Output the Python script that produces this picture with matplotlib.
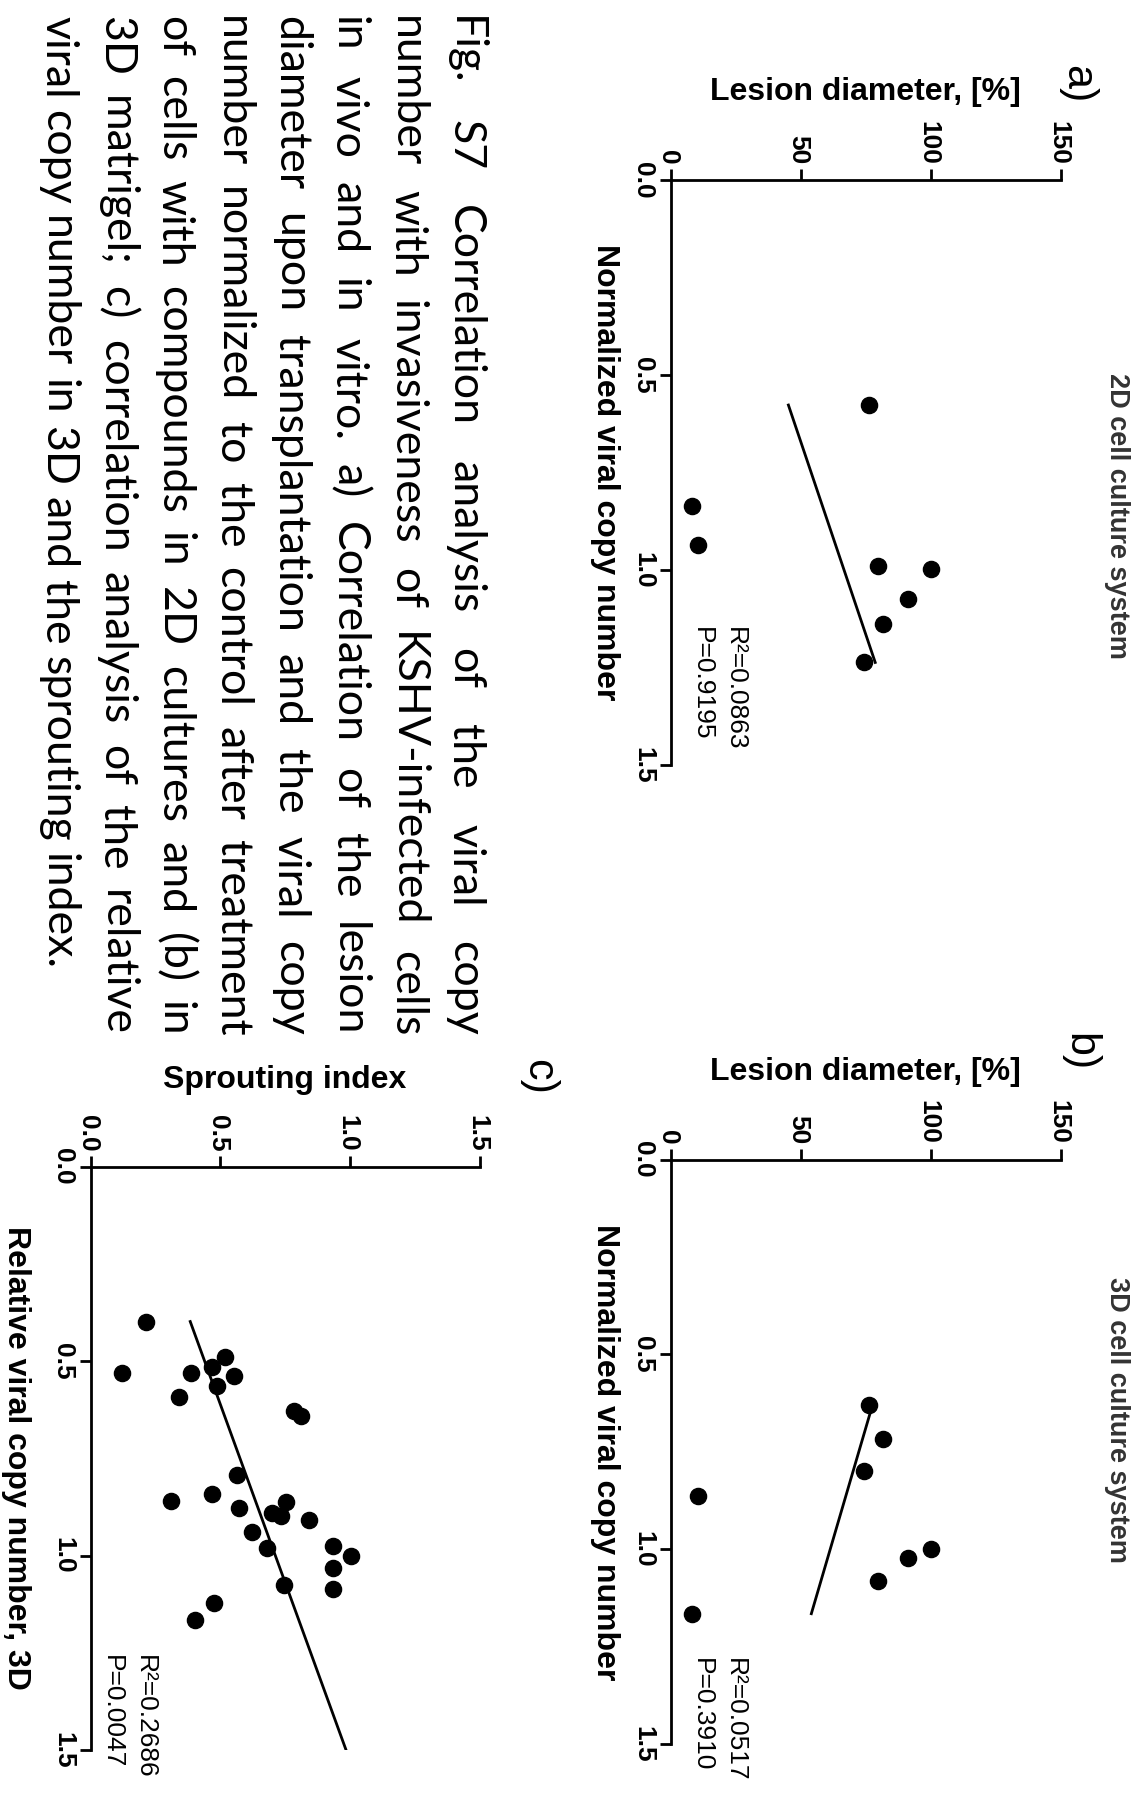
import matplotlib
matplotlib.use("Agg")
import matplotlib.pyplot as plt
import numpy as np

# a) 2D cell culture system
copy_2d = [0.577, 0.836, 0.936, 0.991, 0.998, 1.074, 1.138, 1.237]
lesion_2d = [76.3, 8.1, 10.6, 79.8, 100.1, 91.4, 81.8, 74.5]

# b) 3D cell culture system
copy_3d = [0.630, 0.717, 0.800, 0.862, 1.000, 1.021, 1.080, 1.165]
lesion_3d = [76.3, 81.8, 74.5, 10.6, 100.1, 91.4, 79.8, 8.1]

# c) sprouting index vs relative viral copy number
copy_rel = [0.398, 0.488, 0.531, 0.529, 0.514, 0.537, 0.563, 0.591, 0.627, 0.640,
            0.793, 0.859, 0.842, 0.876, 0.863, 0.891, 0.898, 0.907, 0.938, 0.981,
            0.975, 1.001, 1.032, 1.086, 1.074, 1.122, 1.165]
sprouting = [0.215, 0.519, 0.119, 0.385, 0.468, 0.551, 0.487, 0.341, 0.782, 0.809,
             0.564, 0.309, 0.468, 0.571, 0.754, 0.699, 0.732, 0.840, 0.622, 0.679,
             0.933, 1.004, 0.933, 0.933, 0.744, 0.476, 0.401]

r2_labels = ["R\u00b2=0.0863", "R\u00b2=0.0517", "R\u00b2=0.2686"]
p_labels = ["P=0.9195", "P=0.3910", "P=0.0047"]

lesion_ticks = [0, 50, 100, 150]
lesion_ticklabels = ["0", "50", "100", "150"]
index_ticks = [0.0, 0.5, 1.0, 1.5]
index_ticklabels = ["0.0", "0.5", "1.0", "1.5"]
copy_ticks = [0.0, 0.5, 1.0, 1.5]
copy_ticklabels = ["0.0", "0.5", "1.0", "1.5"]

caption = [
    "Fig. S7 Correlation analysis of the viral copy",
    "number with invasiveness of KSHV-infected cells",
    "in vivo and in vitro. a) Correlation of the lesion",
    "diameter upon transplantation and the viral copy",
    "number normalized to the control after treatment",
    "of cells with compounds in 2D cultures and (b) in",
    "3D matrigel; c) correlation analysis of the relative",
    "viral copy number in 3D and the sprouting index.",
]

plt.rcParams["font.family"] = ["Liberation Sans", "DejaVu Sans"]

W, H = 1142, 1794
fig = plt.figure(figsize=(W / 100, H / 100), dpi=100)
rot = dict(rotation=-90, rotation_mode="anchor")


def ptext(x, y, s, **kw):
    return fig.text(x / W, 1 - y / H, s, **kw)


def panel(x0, x1, y0, y1, xmax, xticks, xticklabels, xs, ys, extend=False):
    ax = fig.add_axes([x0 / W, 1 - y1 / H, (x1 - x0) / W, (y1 - y0) / H])
    ax.set_xlim(0, xmax)
    ax.set_ylim(1.5, 0)
    ax.patch.set_alpha(0)
    for s in ["right", "bottom"]:
        ax.spines[s].set_visible(False)
    for s in ["top", "left"]:
        ax.spines[s].set_linewidth(2)
    ax.xaxis.tick_top()
    ax.tick_params(direction="out", length=8, width=2, pad=3)
    ax.set_xticks(xticks, xticklabels, ha="right", va="center_baseline",
                  fontsize=19, fontweight="bold", **rot)
    ax.set_yticks(copy_ticks, copy_ticklabels, ha="center", va="top",
                  fontsize=19, fontweight="bold", **rot)
    ax.scatter(ys, xs, s=135, color="black", zorder=3, clip_on=False)
    k, b = np.polyfit(xs, ys, 1)
    hi = 1.5 if extend else max(xs)
    xx = np.array([min(xs), hi])
    ax.plot(k * xx + b, xx, color="black", lw=2, zorder=2)
    return ax


panel(670.7, 1060.7, 180, 765, 150, lesion_ticks, lesion_ticklabels, copy_2d, lesion_2d)
panel(670.7, 1060.7, 1159.5, 1744.3, 150, lesion_ticks, lesion_ticklabels, copy_3d, lesion_3d)
panel(90.7, 480, 1166.7, 1750.3, 1.5, index_ticks, index_ticklabels, copy_rel, sprouting, extend=True)

bold23 = dict(fontsize=23, fontweight="bold")
ptext(865, 100, "Lesion diameter, [%]", ha="center", va="baseline", **bold23)
ptext(865, 1080, "Lesion diameter, [%]", ha="center", va="baseline", **bold23)
ptext(285, 1088, "Sprouting index", ha="center", va="baseline", **bold23)
ptext(597, 472.5, "Normalized viral copy number", ha="center", va="baseline", **bold23, **rot)
ptext(597, 1452, "Normalized viral copy number", ha="center", va="baseline", **bold23, **rot)
ptext(8, 1458, "Relative viral copy number, 3D", ha="center", va="baseline", **bold23, **rot)

ptext(1110, 516, "2D cell culture system", ha="center", va="baseline",
      fontsize=19.5, fontweight="bold", color="#333333", **rot)
ptext(1110, 1420, "3D cell culture system", ha="center", va="baseline",
      fontsize=19.5, fontweight="bold", color="#333333", **rot)

ptext(1077, 84, "a)", ha="center", va="center", fontsize=31, **rot)
ptext(1079, 1052, "b)", ha="center", va="center", fontsize=31, **rot)
ptext(538, 1077, "c)", ha="center", va="center", fontsize=31, **rot)

for (xr, xp, y0), r2, pv in zip([(728, 695, 627), (728, 695, 1658), (138, 105, 1655)],
                                r2_labels, p_labels):
    ptext(xr, y0, r2, ha="left", va="baseline", fontsize=19, **rot)
    ptext(xp, y0, pv, ha="left", va="baseline", fontsize=19, **rot)

# caption, justified like the source page
renderer = fig.canvas.get_renderer()
cap_family = ["Lato", "DejaVu Sans"]


def width(s, size):
    t = fig.text(0, 0, s, fontsize=size, family=cap_family)
    w = t.get_window_extent(renderer).width
    t.remove()
    return w


cap_size = 20 * 957 / width(caption[-1], 20)
space = width("a a", cap_size) - width("aa", cap_size)
for i, line in enumerate(caption):
    words = line.split()
    ws = [width(w, cap_size) for w in words]
    if i < len(caption) - 1:
        gap = (1020 - sum(ws)) / (len(words) - 1)
    else:
        gap = space
    y = 16
    bx = 452 - 58.1 * i
    for w, wl in zip(words, ws):
        ptext(bx, y, w, ha="left", va="baseline", fontsize=cap_size, family=cap_family, **rot)
        y += wl + gap

fig.savefig("out.png", dpi=100)
